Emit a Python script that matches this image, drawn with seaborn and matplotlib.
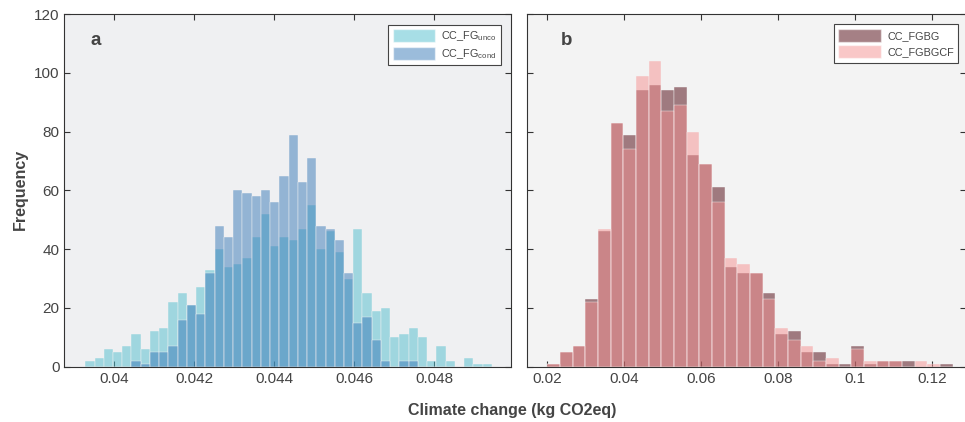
import numpy as np
import pandas as pd
import seaborn as sns
import matplotlib.pyplot as plt
from matplotlib.patches import Patch
from matplotlib.ticker import FuncFormatter

# Bin edges
edges_a = (0.039275 + 0.000231 * np.arange(45)).tolist()
edges_b = (0.0200 + 0.00329 * np.arange(33)).tolist()

# Counts per bin (panel a)
cc_fg_unco = [2, 3, 6, 5, 7, 11, 6, 12, 13, 22, 25, 21, 27, 33, 40, 34, 35, 37, 44, 52, 41, 44,
              43, 47, 55, 40, 46, 39, 30, 47, 25, 19, 20, 10, 11, 13, 10, 2, 7, 2, 0, 3, 1, 1]
cc_fg_cond = [0, 0, 0, 0, 0, 2, 1, 5, 5, 7, 16, 21, 18, 32, 48, 44, 60, 59, 58, 60, 56, 65,
              79, 63, 71, 48, 47, 43, 32, 15, 17, 9, 2, 0, 2, 2, 0, 0, 0, 0, 0, 0, 0, 0]

# Counts per bin (panel b)
cc_fgbg = [1, 5, 7, 23, 46, 83, 79, 94, 96, 94, 95, 72, 69, 61, 34, 32, 32, 25, 11, 12, 5, 5,
           1, 1, 7, 1, 2, 2, 2, 0, 0, 1]
cc_fgbgcf = [1, 5, 7, 22, 47, 83, 74, 99, 104, 87, 89, 80, 69, 56, 37, 35, 32, 23, 13, 9, 7, 2,
             3, 0, 6, 2, 2, 2, 0, 2, 1, 0]

col_unco = "#51bece"
col_cond = "#397ab8"
col_fgbg = "#4d030d"
col_fgbgcf = "#f59191"
txt = "#444444"

sns.set_style("ticks")
plt.rcParams["font.family"] = ["Liberation Sans", "DejaVu Sans"]
plt.rcParams["mathtext.fontset"] = "custom"
plt.rcParams["mathtext.rm"] = "Liberation Sans"
plt.rcParams["mathtext.it"] = "Liberation Sans"

fig = plt.figure(figsize=(9.65, 4.22), dpi=100)
ax1 = fig.add_axes([64.3 / 965, 1 - 366.7 / 422, (511.5 - 64.3) / 965, 352.7 / 422])
ax2 = fig.add_axes([527 / 965, 1 - 366.7 / 422, (966 - 527) / 965, 352.7 / 422])


def draw(ax, edges, counts, color, label):
    centers = [(edges[i] + edges[i + 1]) / 2 for i in range(len(counts))]
    df = pd.DataFrame({"x": centers, "n": counts})
    sns.histplot(data=df, x="x", weights="n", bins=edges, color=color, alpha=0.5,
                 edgecolor="#f4f4f4", linewidth=0.3, ax=ax, label=label)


draw(ax1, edges_a, cc_fg_unco, col_unco, "unco")
draw(ax1, edges_a, cc_fg_cond, col_cond, "cond")
draw(ax2, edges_b, cc_fgbg, col_fgbg, "FGBG")
draw(ax2, edges_b, cc_fgbgcf, col_fgbgcf, "FGBGCF")

ax1.set_facecolor("#eff0f2")
ax2.set_facecolor("#f3f3f3")

ax1.set_xlim(0.03875, 0.04993)
ax2.set_xlim(0.01473, 0.12875)
for ax in (ax1, ax2):
    ax.set_ylim(0, 120)
    ax.set_yticks(range(0, 121, 20))
    ax.set_xlabel("")
    ax.set_ylabel("")
    ax.xaxis.set_major_formatter(FuncFormatter(lambda v, p: "%g" % round(v, 4)))
    ax.tick_params(direction="in", length=4, width=0.8, colors="#333333",
                   labelcolor=txt, labelsize=11, top=True, right=True)
    for s in ax.spines.values():
        s.set_visible(True)
        s.set_color("#333333")
        s.set_linewidth(0.8)
ax1.set_xticks([0.04, 0.042, 0.044, 0.046, 0.048])
ax2.set_xticks([0.02, 0.04, 0.06, 0.08, 0.1, 0.12])
ax2.tick_params(labelleft=False)

ax1.text(0.058, 0.926, "a", transform=ax1.transAxes, fontsize=13.5, fontweight="bold",
         color=txt, va="center")
ax2.text(0.076, 0.926, "b", transform=ax2.transAxes, fontsize=13.5, fontweight="bold",
         color=txt, va="center")

leg_kw = dict(loc="upper right", borderaxespad=0, fontsize=7.8, handlelength=3.9,
              handleheight=1.5, fancybox=False, framealpha=1, edgecolor="#444444",
              labelcolor=txt, borderpad=0.4, labelspacing=0.3, handletextpad=0.6)
h1 = [Patch(facecolor=col_unco, alpha=0.5), Patch(facecolor=col_cond, alpha=0.5)]
l1 = ax1.legend(h1, [r"CC_FG$_{\mathrm{unco}}$", r"CC_FG$_{\mathrm{cond}}$"],
                bbox_to_anchor=(0.9765, 0.969), **leg_kw)
l1.get_frame().set_linewidth(0.8)
h2 = [Patch(facecolor=col_fgbg, alpha=0.5), Patch(facecolor=col_fgbgcf, alpha=0.5)]
l2 = ax2.legend(h2, ["CC_FGBG", "CC_FGBGCF"], bbox_to_anchor=(0.982, 0.971), **leg_kw)
l2.get_frame().set_linewidth(0.8)

fig.text(0.021, 0.55, "Frequency", rotation=90, ha="center", va="center",
         fontsize=11.5, fontweight="bold", color=txt)
fig.text(0.531, 0.028, "Climate change (kg CO2eq)", ha="center", va="center",
         fontsize=11.5, fontweight="bold", color=txt)

fig.savefig("out.png", dpi=100)
